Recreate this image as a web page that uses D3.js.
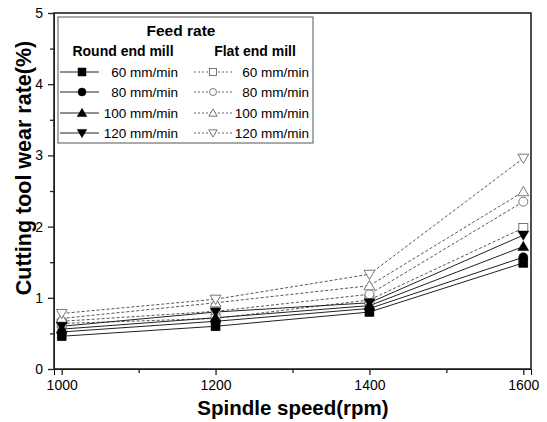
<!DOCTYPE html>
<html>
<head>
<meta charset="utf-8">
<script src="https://cdn.jsdelivr.net/npm/d3@7"></script>
<style>
  body { margin: 0; background: #fff; }
  text { font-family: "Liberation Sans", Arial, sans-serif; fill: #000; }
</style>
</head>
<body>
<svg id="chart" width="547" height="422"></svg>
<script>
const speeds = [1000, 1200, 1400, 1600];
const feeds = ['60 mm/min', '80 mm/min', '100 mm/min', '120 mm/min'];
const shapes = ['square', 'circle', 'up', 'down'];

// round end mill (solid, filled markers)
const round60 = [0.46, 0.60, 0.80, 1.49];
const round80 = [0.52, 0.67, 0.85, 1.57];
const round100 = [0.56, 0.72, 0.89, 1.72];
const round120 = [0.60, 0.80, 0.93, 1.88];

// flat end mill (dashed, open markers)
const flat60 = [0.64, 0.71, 0.97, 1.98];
const flat80 = [0.67, 0.81, 1.05, 2.35];
const flat100 = [0.71, 0.93, 1.17, 2.49];
const flat120 = [0.78, 0.98, 1.33, 2.96];

const yTicks = [0, 1, 2, 3, 4, 5];

const svg = d3.select('#chart');
const margin = { top: 13, right: 16, bottom: 53, left: 54 };
const W = 547 - margin.left - margin.right;
const H = 422 - margin.top - margin.bottom;

const x = d3.scaleLinear().domain([990, 1610]).range([0, W]);
const y = d3.scaleLinear().domain([0, 5]).range([H, 0]);

const g = svg.append('g').attr('transform', `translate(${margin.left},${margin.top})`);

// minor ticks
g.append('g').attr('transform', `translate(0,${H})`)
  .call(d3.axisBottom(x).tickValues([1100, 1300, 1500]).tickSize(4).tickFormat(''))
  .call(a => a.select('.domain').remove());
g.append('g')
  .call(d3.axisLeft(y).tickValues([0.5, 1.5, 2.5, 3.5, 4.5]).tickSize(4).tickFormat(''))
  .call(a => a.select('.domain').remove());

g.append('g').attr('transform', `translate(0,${H})`)
  .call(d3.axisBottom(x).tickValues(speeds).tickSize(6).tickPadding(5).tickFormat(d3.format('d')));
g.append('g')
  .call(d3.axisLeft(y).tickValues(yTicks).tickSize(6).tickPadding(5).tickFormat(d3.format('d')));
g.selectAll('.tick text').style('font-size', '14px').style('font-family', '"Liberation Sans", Arial, sans-serif');
g.selectAll('.tick line').attr('stroke-width', 1.3).attr('stroke', '#222');

// frame
g.append('rect').attr('width', W).attr('height', H)
  .attr('fill', 'none').attr('stroke', '#222').attr('stroke-width', 1.6);

function marker(sel, shape, filled, size) {
  const s = size;
  let el;
  if (shape === 'square') {
    el = sel.append('rect').attr('x', -s / 2).attr('y', -s / 2).attr('width', s).attr('height', s);
  } else if (shape === 'circle') {
    el = sel.append('circle').attr('r', s / 2);
  } else if (shape === 'up') {
    el = sel.append('path').attr('d', `M0,${-s * 0.58}L${s * 0.6},${s * 0.45}L${-s * 0.6},${s * 0.45}Z`);
  } else {
    el = sel.append('path').attr('d', `M0,${s * 0.58}L${s * 0.6},${-s * 0.45}L${-s * 0.6},${-s * 0.45}Z`);
  }
  el.attr('fill', filled ? '#000' : '#fff')
    .attr('stroke', filled ? '#000' : '#555')
    .attr('stroke-width', filled ? 0.5 : 0.8);
}

const line = d3.line().x((d, i) => x(speeds[i])).y(d => y(d));

const roundSeries = [round60, round80, round100, round120];
const flatSeries = [flat60, flat80, flat100, flat120];

flatSeries.forEach(vals => {
  g.append('path').attr('d', line(vals)).attr('fill', 'none')
    .attr('stroke', '#444').attr('stroke-width', 0.9).attr('stroke-dasharray', '3,2');
});
roundSeries.forEach(vals => {
  g.append('path').attr('d', line(vals)).attr('fill', 'none')
    .attr('stroke', '#222').attr('stroke-width', 1);
});
flatSeries.forEach((vals, k) => {
  vals.forEach((v, i) => {
    marker(g.append('g').attr('transform', `translate(${x(speeds[i])},${y(v)})`), shapes[k], false, 9);
  });
});
roundSeries.forEach((vals, k) => {
  vals.forEach((v, i) => {
    marker(g.append('g').attr('transform', `translate(${x(speeds[i])},${y(v)})`), shapes[k], true, 9);
  });
});

// axis titles
svg.append('text').attr('x', 293).attr('y', 415)
  .attr('text-anchor', 'middle').style('font-size', '20.5px').style('font-weight', 'bold')
  .text('Spindle speed(rpm)');
svg.append('text').attr('transform', 'translate(31,168) rotate(-90)')
  .attr('text-anchor', 'middle').style('font-size', '21.5px').style('font-weight', 'bold')
  .text('Cutting tool wear rate(%)');

// legend
const leg = svg.append('g');
leg.append('rect').attr('x', 58).attr('y', 17).attr('width', 255).attr('height', 126)
  .attr('fill', '#fff').attr('stroke', '#555').attr('stroke-width', 1);
leg.append('text').attr('x', 181).attr('y', 36).attr('text-anchor', 'middle')
  .style('font-size', '15.5px').style('font-weight', 'bold').text('Feed rate');
leg.append('text').attr('x', 123).attr('y', 56).attr('text-anchor', 'middle')
  .style('font-size', '14px').style('font-weight', 'bold').text('Round end mill');
leg.append('text').attr('x', 255).attr('y', 56).attr('text-anchor', 'middle')
  .style('font-size', '14px').style('font-weight', 'bold').text('Flat end mill');

const rowY = [72, 92, 113, 133];
feeds.forEach((f, k) => {
  const ry = rowY[k];
  leg.append('line').attr('x1', 60).attr('x2', 99).attr('y1', ry).attr('y2', ry)
    .attr('stroke', '#222').attr('stroke-width', 1);
  marker(leg.append('g').attr('transform', `translate(82,${ry})`), shapes[k], true, 8);
  leg.append('text').attr('x', 178).attr('y', ry + 5).attr('text-anchor', 'end')
    .style('font-size', '13.5px').text(f);

  leg.append('line').attr('x1', 194).attr('x2', 232).attr('y1', ry).attr('y2', ry)
    .attr('stroke', '#555').attr('stroke-width', 0.9).attr('stroke-dasharray', '2,2');
  marker(leg.append('g').attr('transform', `translate(213,${ry})`), shapes[k], false, 7);
  leg.append('text').attr('x', 309).attr('y', ry + 5).attr('text-anchor', 'end')
    .style('font-size', '13.5px').text(f);
});
</script>
</body>
</html>
